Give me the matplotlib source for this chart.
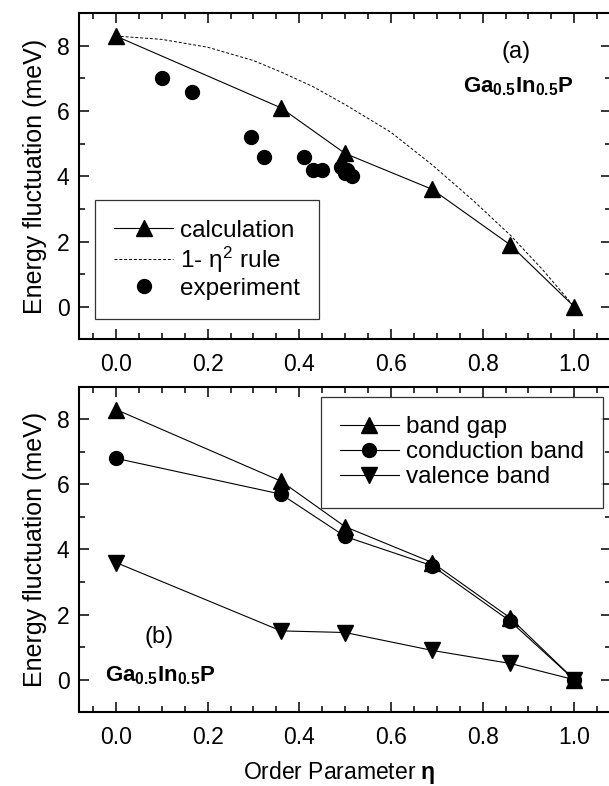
import matplotlib
matplotlib.use("Agg")
import matplotlib.pyplot as plt
from matplotlib.ticker import MultipleLocator

plt.rcParams['font.family'] = ['Liberation Sans', 'DejaVu Sans']
plt.rcParams['mathtext.fontset'] = 'custom'
plt.rcParams['mathtext.rm'] = 'Liberation Sans'
plt.rcParams['mathtext.it'] = 'Liberation Sans'
plt.rcParams['mathtext.bf'] = 'Liberation Sans:bold'

# order parameter of the calculated points
eta = [0.0, 0.36, 0.50, 0.69, 0.86, 1.0]

# panel (a)
calc = [8.3, 6.1, 4.7, 3.6, 1.9, 0.0]
rule_eta = [0.0, 0.1, 0.2, 0.3, 0.36, 0.43, 0.5, 0.6, 0.69, 0.78, 0.86, 0.93, 1.0]
rule_val = [8.3, 8.2, 7.96, 7.55, 7.2, 6.75, 6.2, 5.35, 4.35, 3.25, 2.2, 1.15, 0.0]
exp_eta = [0.10, 0.165, 0.295, 0.322, 0.41, 0.43, 0.45, 0.49, 0.50, 0.505, 0.515]
exp_val = [7.0, 6.6, 5.2, 4.6, 4.6, 4.2, 4.2, 4.3, 4.1, 4.2, 4.0]

# panel (b)
band_gap = [8.3, 6.1, 4.7, 3.6, 1.9, 0.0]
cond_band = [6.8, 5.7, 4.4, 3.5, 1.8, 0.0]
val_band = [3.6, 1.5, 1.45, 0.9, 0.5, 0.0]

fig = plt.figure(figsize=(6.09, 7.86), dpi=100)
ax1 = fig.add_axes([0.1302, 0.5683, 0.873, 0.4148])
ax2 = fig.add_axes([0.1302, 0.0938, 0.873, 0.4142])

def style(ax):
    ax.set_xlim(-0.08, 1.08)
    ax.set_ylim(-1, 9)
    ax.xaxis.set_major_locator(MultipleLocator(0.2))
    ax.xaxis.set_minor_locator(MultipleLocator(0.05))
    ax.yaxis.set_major_locator(MultipleLocator(2))
    ax.yaxis.set_minor_locator(MultipleLocator(1))
    ax.xaxis.set_major_formatter(matplotlib.ticker.FormatStrFormatter('%.1f'))
    ax.tick_params(which='both', direction='in', top=True, right=True, width=1.1)
    ax.tick_params(which='major', length=7)
    ax.tick_params(which='minor', length=4)
    ax.tick_params(axis='x', which='major', pad=10, labelsize=16.5)
    ax.tick_params(axis='y', which='major', pad=7, labelsize=16.5)
    for s in ax.spines.values():
        s.set_linewidth(1.5)
    ax.set_ylabel('Energy fluctuation (meV)', fontsize=18, labelpad=7)

style(ax1)
style(ax2)

leg_kw = dict(fontsize=17.5, frameon=True, fancybox=False, edgecolor='black',
              handlelength=2.4, borderpad=0.8, borderaxespad=0,
              labelspacing=0.12, handletextpad=0.3)

ms = 12
ax1.plot(eta, calc, 'k-', lw=0.8, marker='^', ms=ms, label='calculation')
ax1.plot(rule_eta, rule_val, 'k--', lw=0.7, dashes=(3, 2), label=r'1- $\eta^{2}$ rule')
ax1.plot(exp_eta, exp_val, 'ko', ms=10, ls='none', label='experiment')
ax1.legend(loc='lower left', bbox_to_anchor=(0.0295, 0.0613), **leg_kw).get_frame().set_linewidth(0.9)
ax1.text(0.873, 7.8, '(a)', fontsize=17, ha='center', va='center')
ax1.text(0.877, 6.75, r'$\mathbf{Ga_{0.5}In_{0.5}P}$', fontsize=16, ha='center', va='center')

ax2.plot(eta, band_gap, 'k-', lw=0.8, marker='^', ms=ms, label='band gap')
ax2.plot(eta, cond_band, 'k-', lw=0.8, marker='o', ms=10, label='conduction band')
ax2.plot(eta, val_band, 'k-', lw=0.8, marker='v', ms=ms, label='valence band')
ax2.legend(loc='upper right', bbox_to_anchor=(0.9855, 0.969), **leg_kw).get_frame().set_linewidth(0.9)
ax2.text(0.093, 1.3, '(b)', fontsize=17, ha='center', va='center')
ax2.text(0.097, 0.12, r'$\mathbf{Ga_{0.5}In_{0.5}P}$', fontsize=16, ha='center', va='center')

fig.text(339 / 609, 14 / 786, r'Order Parameter $\mathbf{\eta}$', fontsize=16.5,
         ha='center', va='center')

fig.savefig('out.png', dpi=100)
